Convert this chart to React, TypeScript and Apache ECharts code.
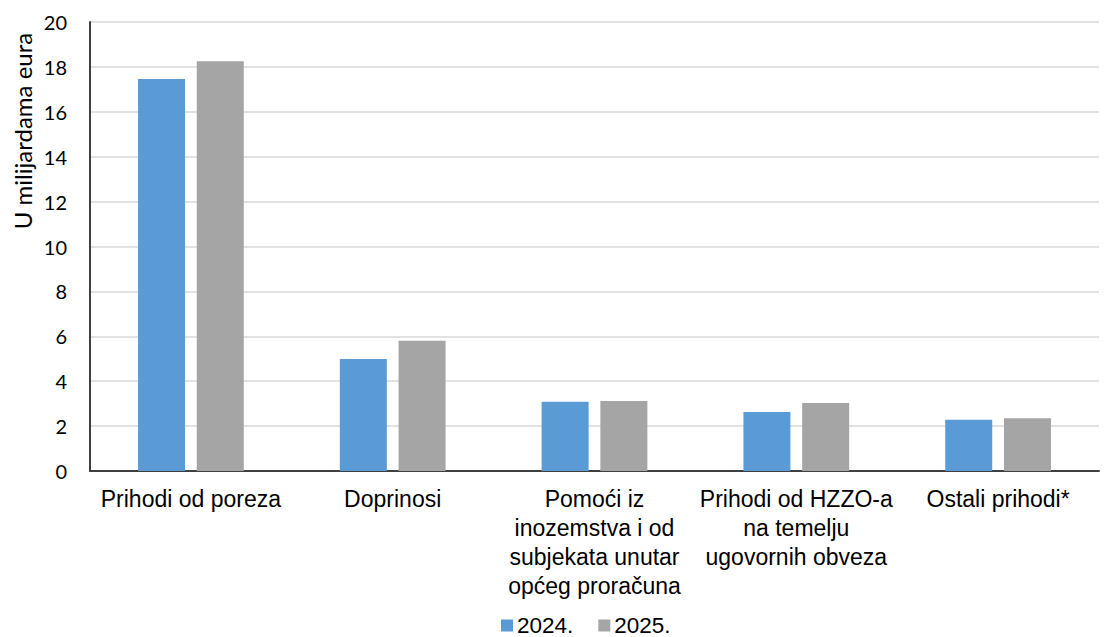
import React, { useEffect, useRef } from "react";
import * as echarts from "echarts";

const categories = [
  "Prihodi od poreza",
  "Doprinosi",
  "Pomoći iz\ninozemstva i od\nsubjekata unutar\nopćeg proračuna",
  "Prihodi od HZZO-a\nna temelju\nugovornih obveza",
  "Ostali prihodi*",
];
const values2024 = [17.46, 4.99, 3.08, 2.63, 2.28];
const values2025 = [18.25, 5.8, 3.12, 3.03, 2.35];
const seriesNames = ["2024.", "2025."];
const yAxisTitle = "U milijardama eura";

const FONT = "'Liberation Sans', Arial, sans-serif";
const FONT2 = "Lato, 'Liberation Sans', sans-serif";

export default function App() {
  const ref = useRef<HTMLDivElement>(null);
  useEffect(() => {
    const chart = echarts.init(ref.current!, null, { renderer: "svg" });
    chart.setOption({
      animation: false,
      backgroundColor: "#ffffff",
      textStyle: { fontFamily: FONT },
      grid: { left: 90, right: 11, top: 22, bottom: 166, containLabel: false },
      legend: {
        data: seriesNames,
        top: 614,
        left: 501,
        padding: 0,
        icon: "rect",
        itemWidth: 12,
        itemHeight: 12,
        itemGap: 25,
        textStyle: {
          fontSize: 22.5,
          lineHeight: 22,
          color: "#000",
          fontFamily: FONT,
          padding: [0, 0, 0, -1],
        },
      },
      xAxis: {
        type: "category",
        data: categories,
        axisLine: { show: true, lineStyle: { color: "#404040", width: 2 } },
        axisTick: { show: false },
        axisLabel: {
          interval: 0,
          margin: 13,
          fontSize: 23,
          lineHeight: 29,
          color: "#000",
          fontFamily: FONT,
          align: "center",
          verticalAlign: "top",
        },
      },
      yAxis: {
        type: "value",
        min: 0,
        max: 20,
        interval: 2,
        axisLine: { show: true, lineStyle: { color: "#404040", width: 2 } },
        axisTick: { show: false },
        splitLine: { show: true, lineStyle: { color: "#d9d9d9", width: 1.5 } },
        axisLabel: { fontSize: 20, color: "#000", margin: 23, fontFamily: FONT2 },
      },
      graphic: [
        {
          type: "text",
          x: 22,
          y: 131,
          rotation: Math.PI / 2,
          style: {
            text: yAxisTitle,
            fontSize: 24,
            fill: "#000",
            fontFamily: FONT2,
            align: "center",
            verticalAlign: "middle",
          },
        },
      ],
      series: [
        {
          name: seriesNames[0],
          type: "bar",
          data: values2024,
          barWidth: 47,
          barGap: "25%",
          itemStyle: { color: "#5b9bd5" },
        },
        {
          name: seriesNames[1],
          type: "bar",
          data: values2025,
          barWidth: 47,
          itemStyle: { color: "#a5a5a5" },
        },
      ],
    });
    return () => chart.dispose();
  }, []);
  return (
    <div
      ref={ref}
      style={{ width: 1110, height: 637, position: "absolute", left: 0, top: 0 }}
    />
  );
}
